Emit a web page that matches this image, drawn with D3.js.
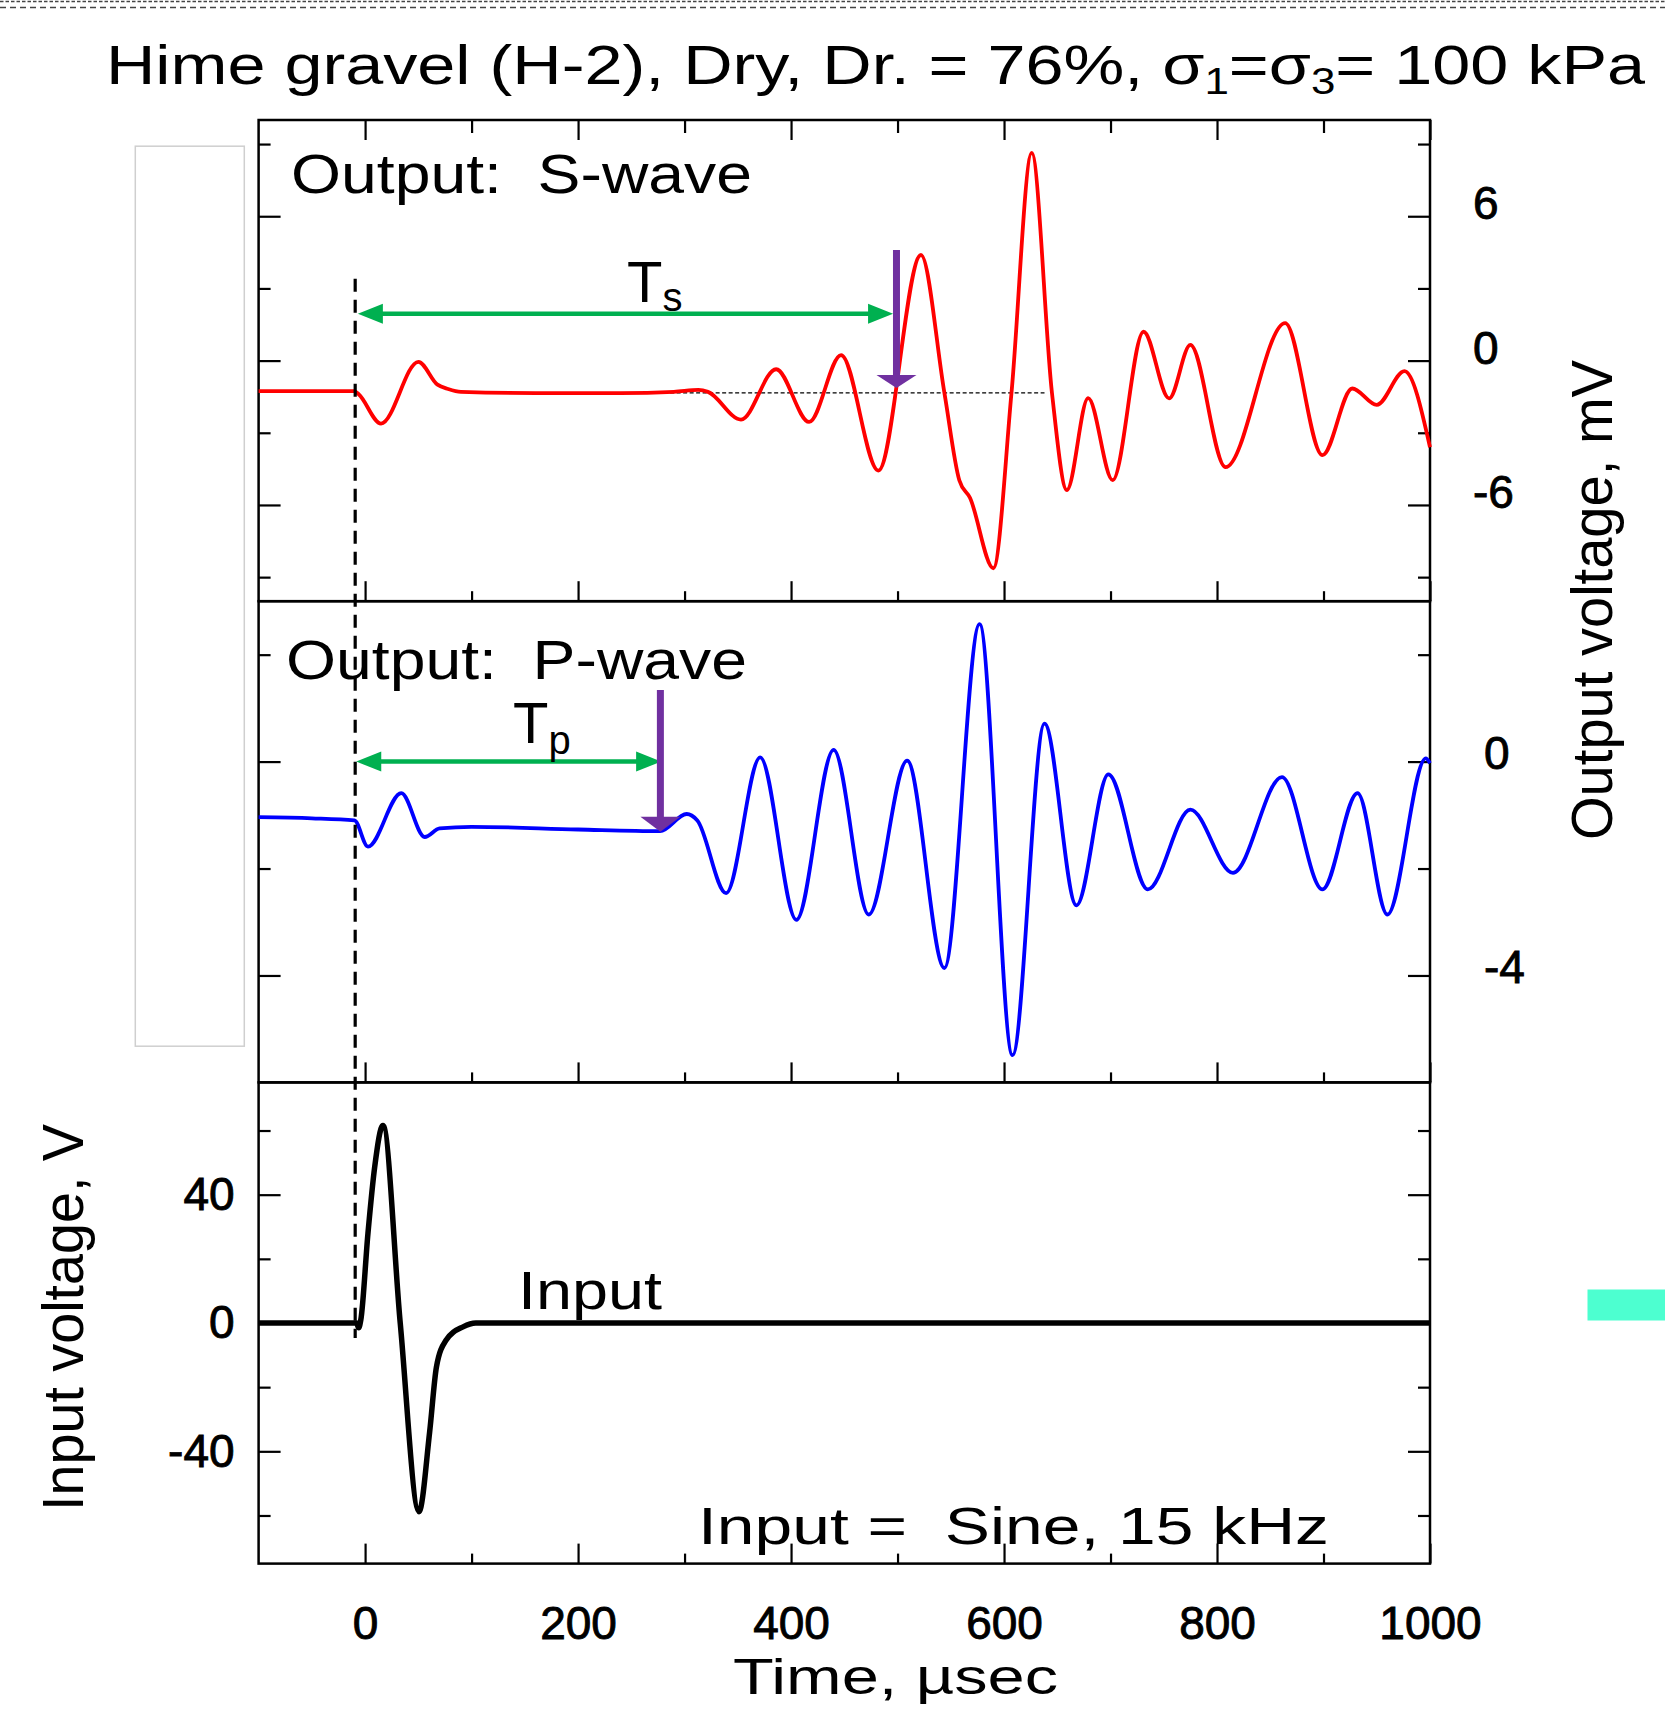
<!DOCTYPE html>
<html>
<head>
<meta charset="utf-8">
<script src="https://cdn.jsdelivr.net/npm/d3@7"></script>
<style>
body { margin: 0; background: #fff; }
svg text { font-family: "Liberation Sans", Arial, sans-serif; white-space: pre; }
</style>
</head>
<body>
<svg id="chart"></svg>
<script>

// ---- data (time in usec, voltage in mV / V) ----
var sWave = [[-100,-1.27],[-10,-1.27],[-6,-1.4],[15,-2.62],[50,-0.05],[68,-1.0],[78,-1.18],[90,-1.3],
  [160,-1.35],[240,-1.35],[290,-1.3],[313,-1.22],[322,-1.3],[353,-2.45],[386,-0.36],[417,-2.55],
  [447,0.23],[482,-4.57],[522,4.39],[544,-1.34],[558,-4.97],[568,-5.7],[590,-8.63],[607,-1.34],
  [626,8.63],[645,-1.34],[659,-5.38],[679,-1.56],[702,-4.97],[731,1.2],[755,-1.57],[775,0.65],
  [808,-4.43],[864,1.56],[899,-3.93],[927,-1.16],[950,-1.84],[976,-0.44],[1000,-3.6]];

var pWave = [[-100,-1.04],[-50,-1.06],[-10,-1.1],[2.7,-1.59],[34,-0.59],[56,-1.41],[70,-1.25],
  [100,-1.22],[200,-1.27],[277,-1.3],[302,-0.98],[312,-1.1],[339,-2.46],[371,0.08],[405,-2.96],
  [440,0.22],[473,-2.86],[509,0.02],[544,-3.86],[577,2.57],[608,-5.49],[638,0.71],[668,-2.69],
  [698,-0.24],[735,-2.39],[775,-0.9],[815,-2.08],[861,-0.29],[899,-2.39],[932,-0.59],[960,-2.86],
  [996,0.06],[1000,-0.03]];

var inputWave = [[-100,0],[-8,0],[-6,-1.5],[-4,1],[2.7,28],[9,48.6],[16.8,61.6],[33,0],
  [50.6,-58.8],[60.6,-34],[67,-13.7],[76,-5.4],[92,-1.2],[104,0],[1000,0]];

var timeTicks = [0, 200, 400, 600, 800, 1000];
var timeMinor = [100, 300, 500, 700, 900];
var sTicks = [-6, 0, 6], sMinor = [-9, -3, 3, 9];
var pTicks = [-4, 0], pMinor = [-2, 2];
var inTicks = [-40, 0, 40], inMinor = [-60, -20, 20, 60];

// picks
var onset = -9.3;
var sPick = 499, pPick = 277.3;

var W = 1665, H = 1711;
var left = 258.6, right = 1430,
    top1 = 120, top2 = 601.2, top3 = 1082.4, bottom = 1563.6;

var svg = d3.select("#chart").attr("width", W).attr("height", H);
svg.append("rect").attr("width", W).attr("height", H).attr("fill", "#fff");

var x = d3.scaleLinear().domain([-100, 1000]).range([left, right]);
var yS = d3.scaleLinear().domain([-10, 10]).range([top2, top1]);
var yP = d3.scaleLinear().domain([-6, 3]).range([top3, top2]);
var yIn = d3.scaleLinear().domain([-75, 75]).range([bottom, top3]);

// dashed lines along the top edge
svg.append("line").attr("x1", 0).attr("x2", W).attr("y1", 1.5).attr("y2", 1.5)
  .attr("stroke", "#444").attr("stroke-width", 1.5).attr("stroke-dasharray", "3.5,2");
svg.append("line").attr("x1", 0).attr("x2", W).attr("y1", 7.5).attr("y2", 7.5)
  .attr("stroke", "#444").attr("stroke-width", 1.5).attr("stroke-dasharray", "6,4");

// stray boxes
svg.append("rect").attr("x", 135.3).attr("y", 146.2).attr("width", 109).attr("height", 900)
  .attr("fill", "none").attr("stroke", "#cfcfcf").attr("stroke-width", 1.5);
svg.append("rect").attr("x", 1587.5).attr("y", 1289.5).attr("width", 78).attr("height", 31)
  .attr("fill", "#4dffd0");

function noDomain(g) { g.select(".domain").remove(); }
function tickStyle(g) { g.selectAll(".tick line").attr("stroke", "#000").attr("stroke-width", 2.2); }

// time ticks: bottom of every panel, top of the first
[top2, top3, bottom].forEach(function(yy) {
  svg.append("g").attr("transform", "translate(0," + yy + ")")
    .call(d3.axisBottom(x).tickValues(timeTicks).tickSize(-20).tickFormat(""))
    .call(noDomain).call(tickStyle);
  svg.append("g").attr("transform", "translate(0," + yy + ")")
    .call(d3.axisBottom(x).tickValues(timeMinor).tickSize(-10).tickFormat(""))
    .call(noDomain).call(tickStyle);
});
svg.append("g").attr("transform", "translate(0," + top1 + ")")
  .call(d3.axisTop(x).tickValues(timeTicks).tickSize(-20).tickFormat(""))
  .call(noDomain).call(tickStyle);
svg.append("g").attr("transform", "translate(0," + top1 + ")")
  .call(d3.axisTop(x).tickValues(timeMinor).tickSize(-13).tickFormat(""))
  .call(noDomain).call(tickStyle);

// y ticks on both sides
[[yS, sTicks, sMinor], [yP, pTicks, pMinor], [yIn, inTicks, inMinor]].forEach(function(p) {
  svg.append("g").attr("transform", "translate(" + left + ",0)")
    .call(d3.axisLeft(p[0]).tickValues(p[1]).tickSize(-22).tickFormat(""))
    .call(noDomain).call(tickStyle);
  svg.append("g").attr("transform", "translate(" + left + ",0)")
    .call(d3.axisLeft(p[0]).tickValues(p[2]).tickSize(-12).tickFormat(""))
    .call(noDomain).call(tickStyle);
  svg.append("g").attr("transform", "translate(" + right + ",0)")
    .call(d3.axisRight(p[0]).tickValues(p[1]).tickSize(-22).tickFormat(""))
    .call(noDomain).call(tickStyle);
  svg.append("g").attr("transform", "translate(" + right + ",0)")
    .call(d3.axisRight(p[0]).tickValues(p[2]).tickSize(-12).tickFormat(""))
    .call(noDomain).call(tickStyle);
});

// tick labels
function labelStyle(g) {
  g.attr("font-size", 46).attr("font-family", "'Liberation Sans', Arial, sans-serif");
  g.selectAll("text").attr("fill", "#000").attr("stroke", "#000").attr("stroke-width", 0.9);
}
svg.append("g").attr("transform", "translate(0," + bottom + ")")
  .call(d3.axisBottom(x).tickValues(timeTicks).tickSize(0).tickPadding(43).tickFormat(function(d) { return String(d); }))
  .call(noDomain).call(labelStyle);
svg.append("g").attr("transform", "translate(" + right + ",0)")
  .call(d3.axisRight(yS).tickValues(sTicks).tickSize(0).tickPadding(43).tickFormat(function(d) { return String(d); }))
  .call(noDomain).call(labelStyle)
  .selectAll("text").attr("dy", 2.5);
svg.append("g").attr("transform", "translate(" + right + ",0)")
  .call(d3.axisRight(yP).tickValues(pTicks).tickSize(0).tickPadding(54).tickFormat(function(d) { return String(d); }))
  .call(noDomain).call(labelStyle)
  .selectAll("text").attr("dy", 7);
svg.append("g").attr("transform", "translate(" + left + ",0)")
  .call(d3.axisLeft(yIn).tickValues(inTicks).tickSize(0).tickPadding(24).tickFormat(function(d) { return String(d); }))
  .call(noDomain).call(labelStyle);

// panel frames
[[top1, top2], [top2, top3], [top3, bottom]].forEach(function(p) {
  svg.append("rect").attr("x", left).attr("y", p[0]).attr("width", right - left).attr("height", p[1] - p[0])
    .attr("fill", "none").attr("stroke", "#000").attr("stroke-width", 2.5);
});

// dotted baseline of the S trace
svg.append("line").attr("x1", x(201)).attr("x2", x(638)).attr("y1", yS(-1.34)).attr("y2", yS(-1.34))
  .attr("stroke", "#000").attr("stroke-width", 1.4).attr("stroke-dasharray", "4,2.5");

// traces
function trace(data, yScale, color, w) {
  var line = d3.line().x(function(d) { return x(d[0]); }).y(function(d) { return yScale(d[1]); })
    .curve(d3.curveMonotoneX);
  svg.append("path").datum(data).attr("d", line).attr("fill", "none")
    .attr("stroke", color).attr("stroke-width", w).attr("stroke-linejoin", "round");
}
trace(sWave, yS, "#ff0000", 3.8);
trace(pWave, yP, "#0000ff", 3.8);
trace(inputWave, yIn, "#000", 5.5);

// onset line
svg.append("line").attr("x1", x(onset)).attr("x2", x(onset)).attr("y1", yS(3.4)).attr("y2", yIn(-4.7))
  .attr("stroke", "#000").attr("stroke-width", 3.2).attr("stroke-dasharray", "13,8");

// green double arrows
function hArrow(x1, x2, yy) {
  var green = "#00b050", L = 25, h = 10;
  svg.append("line").attr("x1", x1 + L - 2).attr("x2", x2 - L + 2).attr("y1", yy).attr("y2", yy)
    .attr("stroke", green).attr("stroke-width", 4.5);
  svg.append("path").attr("fill", green)
    .attr("d", "M" + x1 + "," + yy + "L" + (x1 + L) + "," + (yy - h) + "L" + (x1 + L) + "," + (yy + h) + "Z");
  svg.append("path").attr("fill", green)
    .attr("d", "M" + x2 + "," + yy + "L" + (x2 - L) + "," + (yy - h) + "L" + (x2 - L) + "," + (yy + h) + "Z");
}
hArrow(x(-6.8), x(495.8), yS(1.95));
hArrow(x(-8.3), x(278), yP(0));

// purple pick arrows
function vArrow(xx, y1, y2, L) {
  var purple = "#7030a0", h = 20;
  svg.append("line").attr("x1", xx).attr("x2", xx).attr("y1", y1).attr("y2", y2 - L + 2)
    .attr("stroke", purple).attr("stroke-width", 7);
  svg.append("path").attr("fill", purple)
    .attr("d", "M" + xx + "," + y2 + "L" + (xx - h) + "," + (y2 - L) + "L" + (xx + h) + "," + (y2 - L) + "Z");
}
vArrow(x(sPick), yS(4.6), yS(-1.14), 13);
vArrow(x(pPick), yP(1.34), yP(-1.31), 15);

// texts
var title = svg.append("text").attr("x", 106).attr("y", 84).attr("font-size", 56)
  .attr("textLength", 1539).attr("lengthAdjust", "spacingAndGlyphs");
title.append("tspan").text("Hime gravel (H-2), Dry, Dr. = 76%, σ");
title.append("tspan").attr("font-size", 36).attr("dy", 10).text("1");
title.append("tspan").attr("dy", -10).text("=σ");
title.append("tspan").attr("font-size", 36).attr("dy", 10).text("3");
title.append("tspan").attr("dy", -10).text("= 100 kPa");

function label(txt, xx, yy, size, len) {
  return svg.append("text").attr("x", xx).attr("y", yy).attr("font-size", size)
    .attr("textLength", len).attr("lengthAdjust", "spacingAndGlyphs").text(txt);
}
label("Output:  S-wave", 291, 193, 55, 461);
label("Output:  P-wave", 286, 679, 55, 461);
label("Input", 518, 1309, 53, 144);
label("Input =  Sine, 15 kHz", 698, 1544, 52, 631);
label("Time, µsec", 733, 1694, 50, 325);

var ts = svg.append("text").attr("x", 627).attr("y", 302).attr("font-size", 58);
ts.append("tspan").text("T");
ts.append("tspan").attr("font-size", 40).attr("dy", 9).text("s");
var tp = svg.append("text").attr("x", 513).attr("y", 743).attr("font-size", 58);
tp.append("tspan").text("T");
tp.append("tspan").attr("font-size", 40).attr("dy", 11).text("p");

svg.append("text").attr("transform", "translate(1612,600) rotate(-90)")
  .attr("text-anchor", "middle").attr("font-size", 57)
  .attr("textLength", 480).attr("lengthAdjust", "spacingAndGlyphs").text("Output voltage, mV");
svg.append("text").attr("transform", "translate(83,1317.5) rotate(-90)")
  .attr("text-anchor", "middle").attr("font-size", 57)
  .attr("textLength", 387).attr("lengthAdjust", "spacingAndGlyphs").text("Input voltage, V");

</script>
</body>
</html>
